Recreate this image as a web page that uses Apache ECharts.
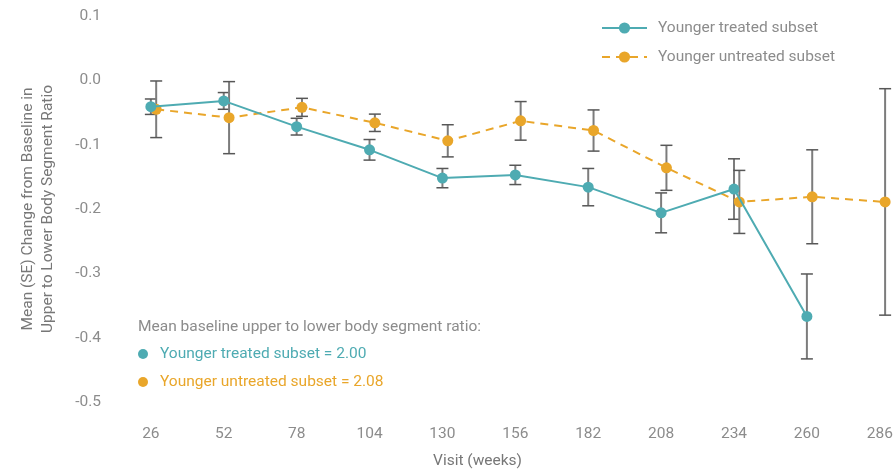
<!DOCTYPE html>
<html>
<head>
<meta charset="utf-8">
<script src="https://cdn.jsdelivr.net/npm/echarts@6/dist/echarts.min.js"></script>
<style>
  html, body { margin: 0; padding: 0; background: #fff; }
  #chart { width: 893px; height: 470px; }
</style>
</head>
<body>
<div id="chart"></div>
<script>
// Visit weeks and mean (SE) change from baseline in upper-to-lower body segment ratio
const weeks = [26, 52, 78, 104, 130, 156, 182, 208, 234, 260, 286];
const treatedMean = [-0.041, -0.032, -0.072, -0.108, -0.152, -0.147, -0.166, -0.206, -0.169, -0.367, null];
const treatedSE = [0.012, 0.013, 0.013, 0.016, 0.015, 0.015, 0.029, 0.031, 0.047, 0.066, null];
const untreatedMean = [-0.045, -0.058, -0.042, -0.066, -0.094, -0.063, -0.078, -0.136, -0.189, -0.181, -0.189];
const untreatedSE = [0.044, 0.056, 0.014, 0.0135, 0.025, 0.030, 0.032, 0.035, 0.049, 0.073, 0.176];
const yTicks = [0.1, 0.0, -0.1, -0.2, -0.3, -0.4, -0.5];

const seriesNames = ['Younger treated subset', 'Younger untreated subset'];
const baselineTitle = 'Mean baseline upper to lower body segment ratio:';
const baselineValues = ['2.00', '2.08'];

const TEAL = '#4EABB2';
const ORANGE = '#E9A62A';
const GREY_TEXT = '#8c8c8c';
const FONT = 'Roboto, "Noto Sans", sans-serif';
const FS = 15.5;
const DODGE = 1.9; // horizontal offset (weeks) so the two groups don't overlap

function pts(means, dx) {
  return weeks.map((w, i) => means[i] == null ? null : [w + dx, means[i]]).filter(Boolean);
}
function bars(means, ses, dx) {
  return weeks.map((w, i) => means[i] == null ? null : [w + dx, means[i] - ses[i], means[i] + ses[i]]).filter(Boolean);
}

function renderErrorBar(params, api) {
  const x = api.value(0);
  const top = api.coord([x, api.value(2)]);
  const bot = api.coord([x, api.value(1)]);
  const hw = 6;
  const stem = { stroke: '#7c7c7c', lineWidth: 2 };
  const cap = { stroke: '#575757', lineWidth: 1.5 };
  return {
    type: 'group',
    children: [
      { type: 'line', shape: { x1: top[0], y1: top[1], x2: bot[0], y2: bot[1] }, style: stem },
      { type: 'line', shape: { x1: top[0] - hw, y1: top[1], x2: top[0] + hw, y2: top[1] }, style: cap },
      { type: 'line', shape: { x1: bot[0] - hw, y1: bot[1], x2: bot[0] + hw, y2: bot[1] }, style: cap }
    ]
  };
}

const chart = echarts.init(document.getElementById('chart'), null, { renderer: 'canvas' });

chart.setOption({
  animation: false,
  backgroundColor: '#ffffff',
  textStyle: { fontFamily: FONT },
  grid: { left: 106, right: 2, top: 16, bottom: 68, containLabel: false, outerBoundsMode: 'none' },
  legend: {
    orient: 'vertical',
    left: 596,
    top: 15,
    itemWidth: 45,
    itemHeight: 14,
    itemGap: 13,
    data: seriesNames,
    textStyle: { color: GREY_TEXT, fontSize: FS, fontFamily: FONT, padding: [0, 0, 0, 6] }
  },
  xAxis: {
    type: 'value',
    min: 10,
    max: 290,
    axisLine: { show: false },
    axisTick: { show: false },
    splitLine: { show: false },
    axisLabel: {
      customValues: weeks,
      color: GREY_TEXT,
      fontSize: FS,
      margin: 24,
      fontFamily: FONT
    },
    name: 'Visit (weeks)',
    nameLocation: 'middle',
    nameGap: 51,
    nameTextStyle: { color: '#777', fontSize: FS, fontFamily: FONT, padding: [0, 42, 0, 0] }
  },
  yAxis: {
    type: 'value',
    min: -0.5,
    max: 0.1,
    interval: 0.1,
    axisLine: { show: false },
    axisTick: { show: false },
    splitLine: { show: false },
    axisLabel: {
      customValues: yTicks,
      color: GREY_TEXT,
      fontSize: FS,
      margin: 5,
      fontFamily: FONT,
      formatter: v => v.toFixed(1)
    },
    name: 'Mean (SE) Change from Baseline in\nUpper to Lower Body Segment Ratio',
    nameLocation: 'middle',
    nameGap: 48,
    nameTextStyle: { color: '#777', fontSize: FS, lineHeight: 20, fontFamily: FONT }
  },
  series: [
    {
      type: 'custom',
      name: 'treated-se',
      renderItem: renderErrorBar,
      data: bars(treatedMean, treatedSE, 0),
      z: 1,
      silent: true
    },
    {
      type: 'custom',
      name: 'untreated-se',
      renderItem: renderErrorBar,
      data: bars(untreatedMean, untreatedSE, DODGE),
      z: 1,
      silent: true
    },
    {
      type: 'line',
      name: seriesNames[0],
      data: pts(treatedMean, 0),
      symbol: 'circle',
      symbolSize: 11,
      itemStyle: { color: TEAL },
      lineStyle: { color: TEAL, width: 2 },
      z: 3
    },
    {
      type: 'line',
      name: seriesNames[1],
      data: pts(untreatedMean, DODGE),
      symbol: 'circle',
      symbolSize: 11,
      itemStyle: { color: ORANGE },
      lineStyle: { color: ORANGE, width: 2, type: [8, 6] },
      z: 2
    }
  ],
  graphic: [
    {
      type: 'text', x: 138, y: 327,
      style: { text: baselineTitle, fill: GREY_TEXT, font: FS + 'px ' + FONT, verticalAlign: 'middle' }
    },
    { type: 'circle', shape: { cx: 143, cy: 354, r: 5 }, style: { fill: TEAL } },
    {
      type: 'text', x: 160, y: 354,
      style: { text: seriesNames[0] + ' = ' + baselineValues[0], fill: TEAL, font: FS + 'px ' + FONT, verticalAlign: 'middle' }
    },
    { type: 'circle', shape: { cx: 143, cy: 382, r: 5 }, style: { fill: ORANGE } },
    {
      type: 'text', x: 160, y: 382,
      style: { text: seriesNames[1] + ' = ' + baselineValues[1], fill: ORANGE, font: FS + 'px ' + FONT, verticalAlign: 'middle' }
    }
  ]
});
</script>
</body>
</html>
